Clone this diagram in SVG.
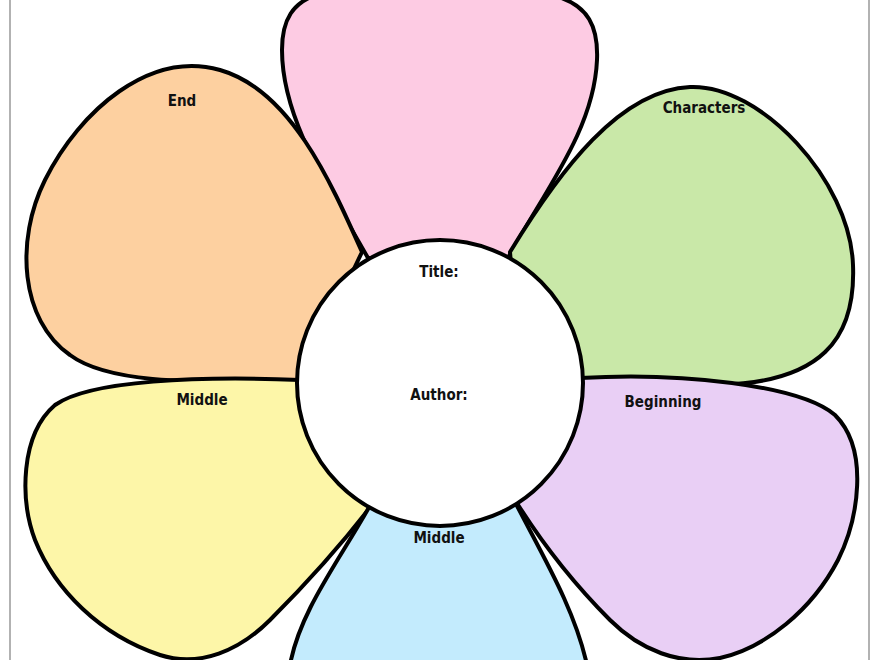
<svg xmlns="http://www.w3.org/2000/svg" width="880" height="660" viewBox="0 0 880 660">
<style>
.p{stroke:#000;stroke-width:4;stroke-linejoin:round}
.t{font-family:"DejaVu Sans Condensed","Liberation Sans Narrow","Liberation Sans",sans-serif;font-weight:bold;font-size:15px;fill:#111;text-anchor:middle}
</style>
<rect width="880" height="660" fill="#fff"/>
<line x1="10" y1="0" x2="10" y2="660" stroke="#999" stroke-width="1.5"/>
<line x1="869" y1="0" x2="869" y2="660" stroke="#999" stroke-width="1.5"/>
<g id="petal-top"><path class="p" fill="#fdcbe3" d="M368,258 C330,190 282,120 282,50 C282,-20 340,-12 440,-12 C550,-12 600,-10 597,60 C594,130 545,190 508,258 Z"/></g>
<g id="petal-characters"><path class="p" fill="#c9e8a8" d="M510,252 C560,170 620,90 690,87 C760,84 850,180 853,265 C856,340 820,382 720,385 C650,387 580,380 520,378 Z"/><text class="t" x="704" y="113">Characters</text></g>
<g id="petal-end"><path class="p" fill="#fdd0a0" d="M362,252 C330,180 290,90 220,70 C150,50 80,110 45,180 C15,240 20,320 70,355 C110,385 200,382 300,382 Z"/><text class="t" x="182" y="106">End</text></g>
<g id="petal-beginning"><path class="p" fill="#e9cff5" d="M580,378 C680,372 800,385 835,415 C870,450 858,520 838,560 C812,610 765,648 720,658 C680,666 640,650 610,620 C570,580 540,540 515,500 Z"/><text class="t" x="663" y="407">Beginning</text></g>
<g id="petal-middle-left"><path class="p" fill="#fdf6a8" d="M300,380 C200,376 90,380 55,405 C20,435 20,500 35,540 C55,590 100,635 160,655 C200,668 240,650 270,620 C310,580 345,540 372,505 Z"/><text class="t" x="202" y="405">Middle</text></g>
<g id="petal-middle-bottom"><path class="p" fill="#c3ebfd" d="M372,502 C340,560 300,610 290,665 L587,665 C575,610 545,560 515,502 Z"/><text class="t" x="439" y="543">Middle</text></g>
<g id="center"><circle class="p" fill="#fff" cx="440" cy="383" r="143"/><text class="t" x="439" y="277">Title:</text><text class="t" x="439" y="400">Author:</text></g>
<g id="connectors"/>
</svg>
